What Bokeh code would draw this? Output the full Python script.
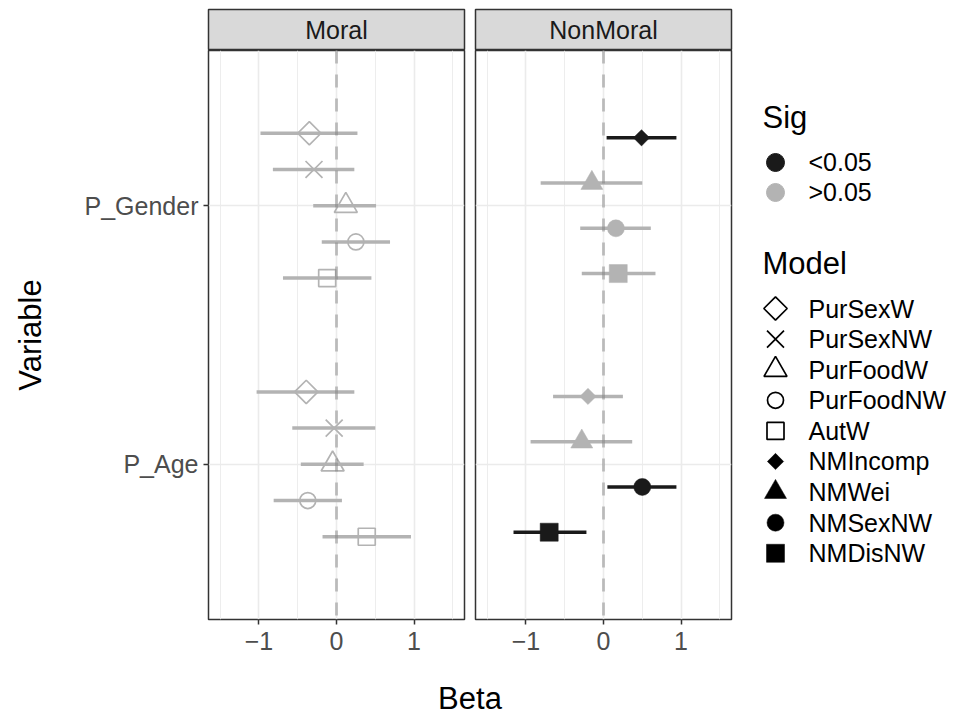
import numpy as np
from bokeh.plotting import figure
from bokeh.layouts import row, column
from bokeh.models import Range1d, FixedTicker, Span, ColumnDataSource
from bokeh.embed import file_html
from bokeh.resources import INLINE
from bokeh.core.properties import value

# ---------------- data ----------------
facets = ["Moral", "NonMoral"]
variables = ["P_Gender", "P_Age"]          # top to bottom on the axis
sig_levels = ["<0.05", ">0.05"]
x_ticks = [-1, 0, 1]
x_tick_labels = ["\u22121", "0", "1"]
x_minor = [-1.5, -0.5, 0.5, 1.5]
x_limits = [-1.5, 1.5]
zero_ref = 0

moral_models = ["PurSexW", "PurSexNW", "PurFoodW", "PurFoodNW", "AutW"]
moral_gender_beta = [-0.35, -0.29, 0.12, 0.25, -0.12]
moral_gender_lo = [-0.98, -0.82, -0.30, -0.19, -0.69]
moral_gender_hi = [0.27, 0.23, 0.51, 0.69, 0.45]
moral_gender_sig = [">0.05", ">0.05", ">0.05", ">0.05", ">0.05"]
moral_age_beta = [-0.39, -0.03, -0.05, -0.37, 0.39]
moral_age_lo = [-1.03, -0.57, -0.46, -0.81, -0.18]
moral_age_hi = [0.23, 0.50, 0.35, 0.07, 0.96]
moral_age_sig = [">0.05", ">0.05", ">0.05", ">0.05", ">0.05"]

nonmoral_models = ["NMIncomp", "NMWei", "NMSexNW", "NMDisNW"]
nonmoral_gender_beta = [0.49, -0.15, 0.16, 0.19]
nonmoral_gender_lo = [0.04, -0.81, -0.30, -0.28]
nonmoral_gender_hi = [0.94, 0.50, 0.61, 0.67]
nonmoral_gender_sig = ["<0.05", ">0.05", ">0.05", ">0.05"]
nonmoral_age_beta = [-0.20, -0.28, 0.50, -0.70]
nonmoral_age_lo = [-0.65, -0.94, 0.05, -1.16]
nonmoral_age_hi = [0.25, 0.37, 0.94, -0.22]
nonmoral_age_sig = [">0.05", ">0.05", "<0.05", "<0.05"]

# ---------------- styles ----------------
FONT = "Liberation Sans"
SIG_COLORS = {"<0.05": "#1a1a1a", ">0.05": "#b3b3b3"}
Q = np.pi / 4
MODEL_STYLE = {
    "PurSexW": dict(marker="square", angle=Q, size=16.5, filled=False),
    "PurSexNW": dict(marker="x", angle=0, size=24, filled=False),
    "PurFoodW": dict(marker="triangle", angle=0, size=23, filled=False),
    "PurFoodNW": dict(marker="circle", angle=0, size=16, filled=False),
    "AutW": dict(marker="square", angle=0, size=17, filled=False),
    "NMIncomp": dict(marker="square", angle=Q, size=11.5, filled=True),
    "NMWei": dict(marker="triangle", angle=0, size=22, filled=True),
    "NMSexNW": dict(marker="circle", angle=0, size=17, filled=True),
    "NMDisNW": dict(marker="square", angle=0, size=18, filled=True),
}
DODGE = 0.7
y_pos = {v: len(variables) - i for i, v in enumerate(variables)}

panel_data = {
    "Moral": (moral_models, {
        "P_Gender": (moral_gender_beta, moral_gender_lo, moral_gender_hi, moral_gender_sig),
        "P_Age": (moral_age_beta, moral_age_lo, moral_age_hi, moral_age_sig)}),
    "NonMoral": (nonmoral_models, {
        "P_Gender": (nonmoral_gender_beta, nonmoral_gender_lo, nonmoral_gender_hi, nonmoral_gender_sig),
        "P_Age": (nonmoral_age_beta, nonmoral_age_lo, nonmoral_age_hi, nonmoral_age_sig)}),
}

pad = 0.05 * (x_limits[1] - x_limits[0])
XR = (x_limits[0] - pad, x_limits[1] + pad)
YR = (0.4, len(variables) + 0.6)


def draw_marker(p, src, x, y, st, color, size=None):
    sz = st["size"] if size is None else size
    if st["filled"]:
        return p.scatter(x=x, y=y, marker=st["marker"], angle=st["angle"], size=sz,
                         fill_color=color, line_color=color, line_width=0.5, source=src)
    return p.scatter(x=x, y=y, marker=st["marker"], angle=st["angle"], size=sz,
                     fill_color=None, line_color=color, line_width=1.7, source=src)


def make_strip(label, w, bl, br):
    s = figure(width=w, height=50, x_range=Range1d(0, 1), y_range=Range1d(0, 1),
               x_axis_type=None, y_axis_type=None, toolbar_location=None,
               output_backend="svg", min_border_left=bl, min_border_right=br,
               min_border_top=9, min_border_bottom=0)
    s.background_fill_color = "#d9d9d9"
    s.outline_line_color = "#333333"
    s.outline_line_width = 1.5
    s.grid.visible = False
    s.text(x=[0.5], y=[0.5], text=[label], text_align="center", text_baseline="middle",
           text_font=value(FONT), text_font_size="25px", text_color="#1a1a1a")
    return s


def make_panel(name, w, bl, br, show_y):
    models, data = panel_data[name]
    p = figure(width=w, height=615, x_range=Range1d(*XR), y_range=Range1d(*YR),
               toolbar_location=None, output_backend="svg",
               y_axis_location="left" if show_y else None,
               min_border_left=bl, min_border_right=br, min_border_top=0, min_border_bottom=46)
    p.outline_line_color = "#333333"
    p.outline_line_width = 1.5
    p.background_fill_color = "white"
    n = len(models)
    for i, m in enumerate(models):
        st = MODEL_STYLE[m]
        off = DODGE * ((n - 1) / 2 - i) / n
        ys, b, lo, hi, col = [], [], [], [], []
        for v in variables:
            beta, l, h, sg = data[v]
            ys.append(y_pos[v] + off)
            b.append(beta[i]); lo.append(l[i]); hi.append(h[i]); col.append(SIG_COLORS[sg[i]])
        src = ColumnDataSource(dict(y=ys, beta=b, lo=lo, hi=hi, color=col))
        p.segment(x0="lo", y0="y", x1="hi", y1="y", line_color="color", line_width=3.5, source=src)
        draw_marker(p, src, "beta", "y", st, "color")
    p.add_layout(Span(location=zero_ref, dimension="height", line_color="#7f7f7f", line_alpha=0.45,
                      line_width=3, line_dash="13 11"))
    p.xgrid.ticker = FixedTicker(ticks=x_ticks, minor_ticks=x_minor)
    p.xgrid.grid_line_color = "#ebebeb"
    p.xgrid.grid_line_width = 1.6
    p.xgrid.minor_grid_line_color = "#ebebeb"
    p.xgrid.minor_grid_line_width = 0.9
    p.ygrid.ticker = FixedTicker(ticks=[y_pos[v] for v in variables])
    p.ygrid.grid_line_color = "#ebebeb"
    p.ygrid.grid_line_width = 1.6
    xa = p.xaxis[0]
    xa.ticker = FixedTicker(ticks=x_ticks)
    xa.major_label_overrides = {t: lab for t, lab in zip(x_ticks, x_tick_labels)}
    xa.axis_line_color = None
    xa.major_tick_line_color = "#333333"
    xa.major_tick_line_width = 1.5
    xa.major_tick_out = 5
    xa.major_tick_in = 0
    xa.minor_tick_line_color = None
    xa.major_label_text_font = FONT
    xa.major_label_text_font_size = "25px"
    xa.major_label_text_color = "#4d4d4d"
    xa.major_label_standoff = 7
    if show_y:
        ya = p.yaxis[0]
        ya.ticker = FixedTicker(ticks=[y_pos[v] for v in variables])
        ya.major_label_overrides = {y_pos[v]: v for v in variables}
        ya.axis_line_color = None
        ya.major_tick_line_color = "#333333"
        ya.major_tick_line_width = 1.5
        ya.major_tick_out = 5
        ya.major_tick_in = 0
        ya.minor_tick_line_color = None
        ya.major_label_text_font = FONT
        ya.major_label_text_font_size = "25px"
        ya.major_label_text_color = "#4d4d4d"
        ya.major_label_standoff = 5
        ya.axis_label = "Variable"
        ya.axis_label_text_font = FONT
        ya.axis_label_text_font_size = "31px"
        ya.axis_label_text_font_style = "normal"
        ya.axis_label_text_color = "black"
        ya.axis_label_standoff = 34
    return p


strip1 = make_strip(facets[0], 469, 208, 5)
strip2 = make_strip(facets[1], 272, 6, 10)
p1 = make_panel(facets[0], 469, 208, 5, True)
p2 = make_panel(facets[1], 272, 6, 10, False)

beta_fig = figure(width=741, height=53, x_range=Range1d(0, 1), y_range=Range1d(0, 1),
                  x_axis_type=None, y_axis_type=None, toolbar_location=None, output_backend="svg",
                  min_border_left=208, min_border_right=10, min_border_top=0, min_border_bottom=0)
beta_fig.outline_line_color = None
beta_fig.grid.visible = False
beta_fig.text(x=[0.5], y=[0.37], text=["Beta"], text_align="center", text_baseline="middle",
              text_font=value(FONT), text_font_size="31px", text_color="black")


# ---------------- legends (one row per key, in px-like units of the legend box) ----------------
KEY_X, LABEL_X, TITLE_X = 34, 67, 21


def legend_fig(h, y_top, y_bottom):
    f = figure(width=217, height=h, x_range=Range1d(0, 217), y_range=Range1d(y_bottom, y_top),
               x_axis_type=None, y_axis_type=None, toolbar_location=None, output_backend="svg",
               min_border=0)
    f.outline_line_color = None
    f.grid.visible = False
    return f


def legend_text(f, xs, ys, labels, size):
    f.text(x=xs, y=ys, text=labels, text_align="left", text_baseline="middle",
           text_font=value(FONT), text_font_size=size, text_color="black")


# Sig key: rows 30 px apart
sig_fig = legend_fig(215, -5.4, 1.767)
sig_rows = list(range(len(sig_levels)))
legend_text(sig_fig, [TITLE_X], [-1.5], ["Sig"], "31px")
sig_src = ColumnDataSource(dict(x=[KEY_X] * len(sig_levels), y=sig_rows,
                                color=[SIG_COLORS[s] for s in sig_levels]))
sig_fig.scatter(x="x", y="y", marker="circle", size=18, fill_color="color", line_color="color",
                source=sig_src)
legend_text(sig_fig, [LABEL_X] * len(sig_levels), sig_rows, sig_levels, "25px")

# Model key: rows 30.6 px apart
all_models = moral_models + nonmoral_models
model_fig = legend_fig(503, -3.04, 13.4)
legend_text(model_fig, [TITLE_X], [-1.47], ["Model"], "31px")
for i, m in enumerate(all_models):
    src = ColumnDataSource(dict(x=[KEY_X], y=[i]))
    draw_marker(model_fig, src, "x", "y", MODEL_STYLE[m], "black")
legend_text(model_fig, [LABEL_X] * len(all_models), list(range(len(all_models))), all_models, "25px")

left = column(row(strip1, strip2, spacing=0), row(p1, p2, spacing=0), beta_fig, spacing=0)
right = column(sig_fig, model_fig, spacing=0)
layout = row(left, right, spacing=0)

open("out.html", "w").write(file_html(layout, INLINE))
